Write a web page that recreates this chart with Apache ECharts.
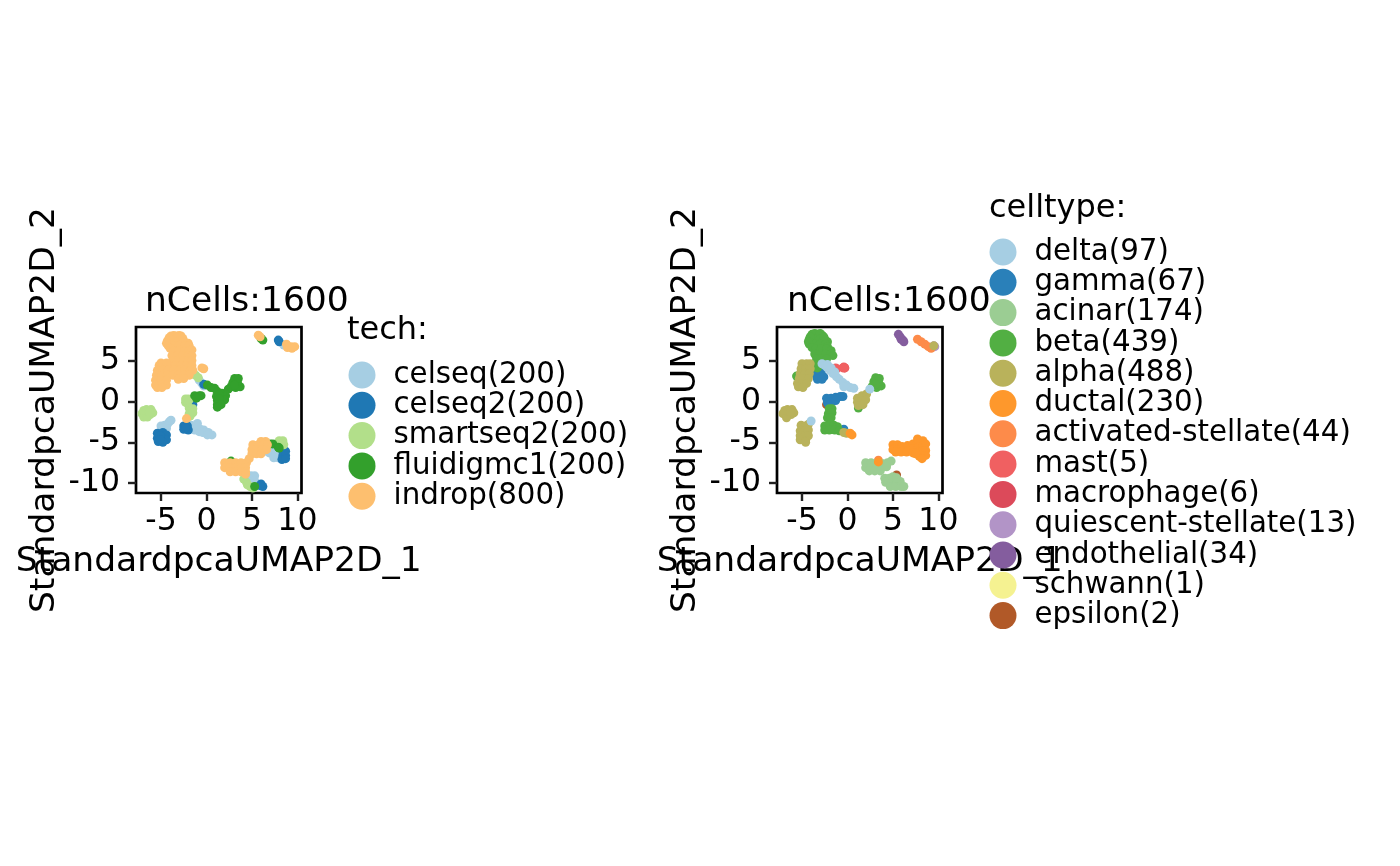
<!DOCTYPE html>
<html><head><meta charset="utf-8">
<script src="https://cdn.jsdelivr.net/npm/echarts@6/dist/echarts.min.js"></script>
<style>html,body{margin:0;padding:0;background:#fff}#c{width:1400px;height:866px}</style></head>
<body><div id="c"></div>
<script>
const techNames=["celseq(200)","celseq2(200)","smartseq2(200)","fluidigmc1(200)","indrop(800)"];
const techColors=["#A6CEE3","#1F78B4","#B2DF8A","#33A02C","#FDBF6F"];
const celseq=[[-5,-3],[-4.6,-2.9],[-4.3,-2.8],[-4.1,-2.5],[-3.9,-2.3],[-4.4,-3.3],[-4.8,-3.2],[-1.7,-2.9],[-1.2,-3],[-0.8,-3.3],[-0.3,-3.5],[0.2,-3.8],[0.6,-4.1],[-1.3,-3.5],[-0.8,-3.7],[-1,-2.7],[-0.4,-3.8],[0.1,-4.1],[6.9,-5.8],[7.4,-5.7],[6.9,-6.3],[7.4,-6.3],[7.9,-6.3],[7.4,-6.9],[7.9,-6.9],[8.3,-5.9],[6.7,-6.1],[4.9,-9.1],[5.3,-9.1],[4.8,-9.6],[5.3,-9.7],[5,-10.1],[-0.8,2.6],[-0.5,2.2],[-0.3,1.9],[8.5,6.9]];
const celseq2=[[-5.4,-3.9],[-4.8,-3.8],[-4.4,-4.1],[-5.4,-4.5],[-4.8,-4.5],[-4.4,-4.7],[-5.3,-4.9],[-4.8,-5],[-5.1,-4.2],[-5.1,-4.7],[-2.5,-3],[-2.1,-3],[-2.5,-3.4],[-2,-3.5],[-2.3,-3.2],[7.9,7.5],[8,7.3],[8.4,-6.1],[8.7,-6.1],[8.4,-6.6],[8.7,-6.6],[8.3,-7.1],[8.7,-7],[6,-10.1],[6.2,-10.4],[5.9,-10.3],[-0.3,2.1],[-1.7,-0.1],[-1.5,-0.4],[-1.8,-0.4]];
const smartseq2=[[-7.1,-1.5],[-6.6,-1],[-6.1,-1],[-5.9,-1.4],[-6.6,-1.5],[-6.2,-1.6],[-6.9,-1.9],[-6.5,-1.9],[-6.9,-1.1],[-6.3,-1.3],[-2.3,0.3],[-2,0.3],[-2.3,-0.1],[-1.9,0.2],[-2.1,-0.2],[-1.9,-0.8],[-1.7,-1.2],[-1.9,-1.5],[-1.8,-1.8],[-1.5,-0.9],[-1.5,-1.4],[-1.2,3.2],[-0.9,2.9],[8,-4.8],[8.4,-4.8],[8.1,-5.3],[8.5,-5.3],[7.9,-5],[4.1,-9.5],[4.4,-9.9],[4.8,-10.4],[5.1,-10.6],[4.5,-10.2]];
const fluidigmc1=[[0.1,2],[0.5,1.7],[0.9,1.6],[1.2,1.2],[1.7,1],[1.1,0.6],[1.6,0.5],[2.1,0.7],[1.2,0.1],[1.7,0],[2,0.2],[1.4,0.8],[1.4,0.3],[1.2,-0.4],[1.6,-0.4],[1.2,-0.7],[2.4,1.5],[2.7,1.8],[3.2,1.7],[3.7,1.8],[2.9,2.3],[3.4,2.3],[3.1,2.8],[3.5,2.8],[3.1,2],[-1.3,0.7],[-0.8,0.7],[-0.6,0.7],[-1.1,0.4],[6.2,7.5],[6,7.7],[7,-5.2],[7.3,-5.2],[7.9,-5.6],[8,-5.7],[5.3,-10.4],[2.7,-7.3]];
const indrop=[[-3.9,8],[-3.3,8],[-2.8,8],[-3.6,8.05],[-3,8.05],[-4.3,7.4],[-3.7,7.4],[-3.1,7.4],[-2.5,7.4],[-2,7.1],[-4.1,7.8],[-2.6,7.7],[-4.2,6.8],[-3.6,6.8],[-3,6.8],[-2.4,6.8],[-1.9,6.8],[-4.4,7.1],[-4,6.5],[-3.6,6.2],[-3,6.2],[-2.4,6.2],[-1.9,6.2],[-1.6,6.3],[-3.8,5.6],[-3.2,5.6],[-2.6,5.6],[-2,5.6],[-1.6,5.6],[-3.7,5],[-3.1,5],[-2.5,5],[-2,5],[-1.6,5],[-5.2,4.4],[-4.6,4.4],[-4,4.4],[-3.4,4.4],[-2.8,4.4],[-2.2,4.4],[-1.6,4.4],[-5,4.7],[-4.4,4.7],[-5.4,3.8],[-4.8,3.8],[-4.2,3.8],[-3.6,3.8],[-3,3.8],[-2.4,3.8],[-1.8,3.8],[-1.5,3.8],[-5.5,3.2],[-4.9,3.2],[-4.3,3.2],[-3.7,3.2],[-3.1,3.2],[-2.5,3.2],[-1.9,3.2],[-5.6,2.6],[-5,2.6],[-4.4,2.6],[-3.1,2.7],[-2.5,2.8],[-5.6,2],[-5,2],[-4.4,2],[-5.4,1.7],[-4.9,1.7],[-0.5,4.1],[-0.3,4],[5.7,8.1],[5.9,7.9],[8.8,7],[9.3,6.7],[9.7,6.7],[8.9,6.6],[9.4,6.5],[6,-4.9],[6.5,-4.9],[5.1,-5.3],[5.7,-5.3],[6.3,-5.3],[6.7,-5.3],[5,-5.9],[5.5,-5.9],[6.1,-5.9],[6.6,-5.9],[5,-6.4],[5.5,-6.4],[6,-6.4],[2,-7.5],[2.6,-7.5],[3.2,-7.5],[3.8,-7.5],[4.4,-7.5],[4.7,-7],[2,-8.1],[2.6,-8.1],[3.2,-8.1],[3.8,-8.1],[4.3,-8.1],[2.6,-8.6],[3.2,-8.6],[3.8,-8.6],[4.3,-8.6],[4.3,-8.9],[-2.2,-2.1]];
const techValues=[celseq,celseq2,smartseq2,fluidigmc1,indrop];

const cellNames=["delta(97)","gamma(67)","acinar(174)","beta(439)","alpha(488)","ductal(230)","activated-stellate(44)","mast(5)","macrophage(6)","quiescent-stellate(13)","endothelial(34)","schwann(1)","epsilon(2)"];
const cellColors=["#A6CEE3","#2A80B9","#9BCD93","#52AF43","#B9B25B","#FE982C","#FD8B4A","#F06061","#DC4A5A","#B294C7","#845D9E","#F5F291","#B15928"];
const delta=[[-2.8,4.6],[-2.5,4.4],[-2.2,4.1],[-1.9,3.8],[-1.6,3.4],[-1.2,3],[-0.9,2.7],[-0.5,2.3],[-0.1,2],[0.3,1.7],[0.7,1.6],[-0.4,1.8],[-2.2,4.5],[-1.8,4.1],[-1.4,3.6],[2.45,1.5],[-4,-2.4]];
const gamma=[[-3.4,3.6],[-2.9,3.6],[-3.4,3.1],[-2.9,3.1],[-2.6,3],[-3.3,2.7],[-2.8,2.7],[-2.3,0.4],[-1.8,0.4],[-1.3,0.5],[-0.8,0.6],[-0.5,0.6],[-2.2,0],[-1.7,0],[-1.3,0.1],[-2.2,-0.2],[-0.4,-3.4],[-3.2,4.6]];
const acinar=[[2,-7.5],[2.6,-7.5],[3.2,-7.6],[3.8,-7.6],[4.4,-7.5],[4.8,-7.3],[2,-8.1],[2.6,-8.1],[3.2,-8.1],[3.8,-8.1],[4.3,-8],[2.4,-8.5],[3,-8.5],[3.6,-8.5],[4.1,-9.4],[4.6,-9.4],[5.2,-9.5],[4.2,-9.9],[4.8,-10],[5.4,-10],[5.8,-9.8],[4.7,-10.4],[5.3,-10.4],[5.9,-10.4],[6.2,-10.4],[5,-9.2],[5.4,-9.35]];
const beta=[[-3.9,8.2],[-3.3,8.2],[-2.8,8.1],[-3.6,8.3],[-3,8.3],[-4.2,7.6],[-3.6,7.6],[-3,7.6],[-2.5,7.6],[-2.2,7.3],[-4.1,7.9],[-2.6,7.9],[-4.2,7],[-3.6,7],[-3,7],[-2.4,7],[-2.2,6.7],[-4.3,7.3],[-3.9,6.6],[-3.5,6.4],[-2.9,6.4],[-2.3,6.4],[-1.8,6.2],[-3.6,5.8],[-3,5.8],[-2.4,5.8],[-1.8,5.8],[-1.6,5.6],[-3.4,5.2],[-2.9,5.2],[-2.3,5.2],[-3.5,4.6],[-3.6,4.2],[-3.3,4.1],[-5.6,3.1],[2.7,1.8],[3.2,1.7],[3.7,1.9],[2.9,2.4],[3.4,2.4],[3.1,2.9],[3.5,2.8],[3.1,2.1],[1.2,-0.8],[-2,-0.9],[-1.7,-0.9],[-2.1,-1.5],[-1.7,-1.4],[-2.2,-2],[-1.8,-2],[-2.5,-3],[-2,-2.9],[-1.5,-2.9],[-1.1,-3.1],[-2.5,-3.5],[-2,-3.5],[-1.4,-3.5],[-0.9,-3.6]];
const alpha=[[-5,4.6],[-4.5,4.6],[-4.1,4.6],[-5.1,4],[-4.6,4],[-4.1,4],[-5.2,3.4],[-4.7,3.4],[-4.2,3.4],[-5.3,2.8],[-4.8,2.8],[-4.3,2.8],[-5.5,2.2],[-5,2.2],[-4.5,2.2],[-5.4,1.8],[-4.9,1.7],[-7.1,-1.5],[-6.6,-1],[-6.1,-1],[-5.9,-1.4],[-6.6,-1.5],[-6.2,-1.6],[-6.7,-2],[-6.9,-1.1],[-6.3,-1.3],[-5.1,-2.9],[-4.6,-3],[-4.3,-2.8],[-5.2,-3.6],[-4.7,-3.6],[-4.3,-3.5],[-5.2,-4.2],[-4.7,-4.2],[-4.3,-4.2],[-5.2,-4.7],[-4.6,-4.8],[-4.6,-5],[1.1,0.4],[1.6,0.7],[2.1,0.9],[1.1,-0.1],[1.6,0.1],[2,0.2],[1.2,-0.5],[1.7,-0.4],[-0.4,-3.8],[-0.1,-3.9],[9.5,6.8]];
const ductal=[[5,-5.3],[5.5,-5.3],[6,-5.5],[6.6,-5.4],[7.2,-5.2],[7.7,-5],[8.3,-4.8],[7.7,-4.6],[5,-5.9],[5.5,-5.9],[6,-6],[6.6,-6],[7.2,-5.8],[7.8,-5.6],[8.3,-5.4],[8.6,-5.2],[5.3,-6.2],[5.9,-6.2],[6.5,-6.2],[7.2,-6.3],[7.8,-6.2],[8.3,-6],[8.6,-6],[7.9,-6.7],[8.4,-6.6],[8.6,-6.6],[8.2,-7],[7.5,-6.4],[3.4,-7.4],[0.3,-3.9],[0.5,-4.1]];
const activatedStellate=[[7.7,7.6],[8.1,7.3],[8.5,7],[8.9,6.7],[9.2,6.5],[3.4,-7.2]];
const mast=[[-1.3,4.1],[-0.4,4.2],[-0.3,4.1],[-1.2,4],[-0.5,4.1]];
const macrophage=[[-0.4,4.15],[-0.3,4.1],[5.3,-9.3]];
const quiescentStellate=[[9.5,6.8],[9.6,6.7],[9.4,6.7]];
const endothelial=[[5.6,8.2],[5.8,7.9],[5.9,7.6],[6.1,7.5],[6.2,7.3]];
const schwann=[[-2,0]];
const epsilon=[[-2.3,-0.4],[5.4,-9]];
const cellValues=[delta,gamma,acinar,beta,alpha,ductal,activatedStellate,mast,macrophage,quiescentStellate,endothelial,schwann,epsilon];
const cellOrder=[11,12,8,9,1,3,6,10,7,4,2,5,0];
const xTicks=[-5,0,5,10], yTicks=[-10,-5,0,5];
const xRange=[-7.75,10.45], yRange=[-11.2,9.1];
const titleText="nCells:1600", xName="StandardpcaUMAP2D_1", yName="StandardpcaUMAP2D_2";

const F="'DejaVu Sans'";
function axisX(i){return {gridIndex:i,type:'value',min:xRange[0],max:xRange[1],
  name:xName,nameLocation:'middle',nameGap:52,nameTextStyle:{fontFamily:F,fontSize:34.5,color:'#000'},
  splitLine:{show:false},axisLine:{show:false,onZero:false},
  axisTick:{show:true,length:8,lineStyle:{color:'#222',width:2.4},customValues:xTicks},
  axisLabel:{fontFamily:F,fontSize:31.5,color:'#000',margin:13,customValues:xTicks,showMinLabel:true,showMaxLabel:true,hideOverlap:false}};}
function axisY(i){return {gridIndex:i,type:'value',min:yRange[0],max:yRange[1],
  name:yName,nameLocation:'middle',nameGap:73,nameRotate:90,nameTextStyle:{fontFamily:F,fontSize:34.5,color:'#000'},
  splitLine:{show:false},axisLine:{show:false,onZero:false},
  axisTick:{show:true,length:8,lineStyle:{color:'#222',width:2.4},customValues:yTicks},
  axisLabel:{fontFamily:F,fontSize:31.5,color:'#000',margin:16,padding:[4,0,0,0],customValues:yTicks,hideOverlap:false}};}
function sc(name,data,color,i,z){return {type:'scatter',name,data,xAxisIndex:i,yAxisIndex:i,symbol:'circle',symbolSize:9,z:z,
  itemStyle:{color,opacity:1},emphasis:{disabled:true},silent:true};}
const series=[];
techNames.forEach((n,k)=>series.push(sc(n,techValues[k],techColors[k],0,2)));
cellOrder.forEach(k=>series.push(sc(cellNames[k],cellValues[k],cellColors[k],1,2)));
function leg(names,colors,left,top){return {orient:'vertical',left,top,icon:'circle',itemWidth:27,itemHeight:27,itemGap:0.3,
  data:names.map((n,k)=>({name:n,itemStyle:{color:colors[k]}})),selectedMode:false,
  textStyle:{fontFamily:F,fontSize:29.3,lineHeight:26,color:'#000',padding:[4,0,0,13]},padding:0};}
const chart=echarts.init(document.getElementById('c'),null,{renderer:'canvas'});
chart.setOption({animation:false,backgroundColor:'#fff',
 title:[
  {text:titleText,left:145,top:285,padding:0,textStyle:{fontFamily:F,fontSize:34.5,fontWeight:'normal',color:'#000'}},
  {text:titleText,left:787,top:285,padding:0,textStyle:{fontFamily:F,fontSize:34.5,fontWeight:'normal',color:'#000'}},
  {text:'tech:',left:347,top:315,padding:0,textStyle:{fontFamily:F,fontSize:32,fontWeight:'normal',color:'#000'}},
  {text:'celltype:',left:989,top:193,padding:0,textStyle:{fontFamily:F,fontSize:32,fontWeight:'normal',color:'#000'}}],
 grid:[
  {left:136,top:327,width:165.5,height:166,show:true,borderColor:'#000',borderWidth:2.7,backgroundColor:'#fff',containLabel:false},
  {left:777,top:327,width:165.5,height:166,show:true,borderColor:'#000',borderWidth:2.7,backgroundColor:'#fff',containLabel:false}],
 xAxis:[axisX(0),axisX(1)],yAxis:[axisY(0),axisY(1)],
 legend:[leg(techNames,techColors,348.5,360),leg(cellNames,cellColors,989.5,237)],
 series});
</script></body></html>
